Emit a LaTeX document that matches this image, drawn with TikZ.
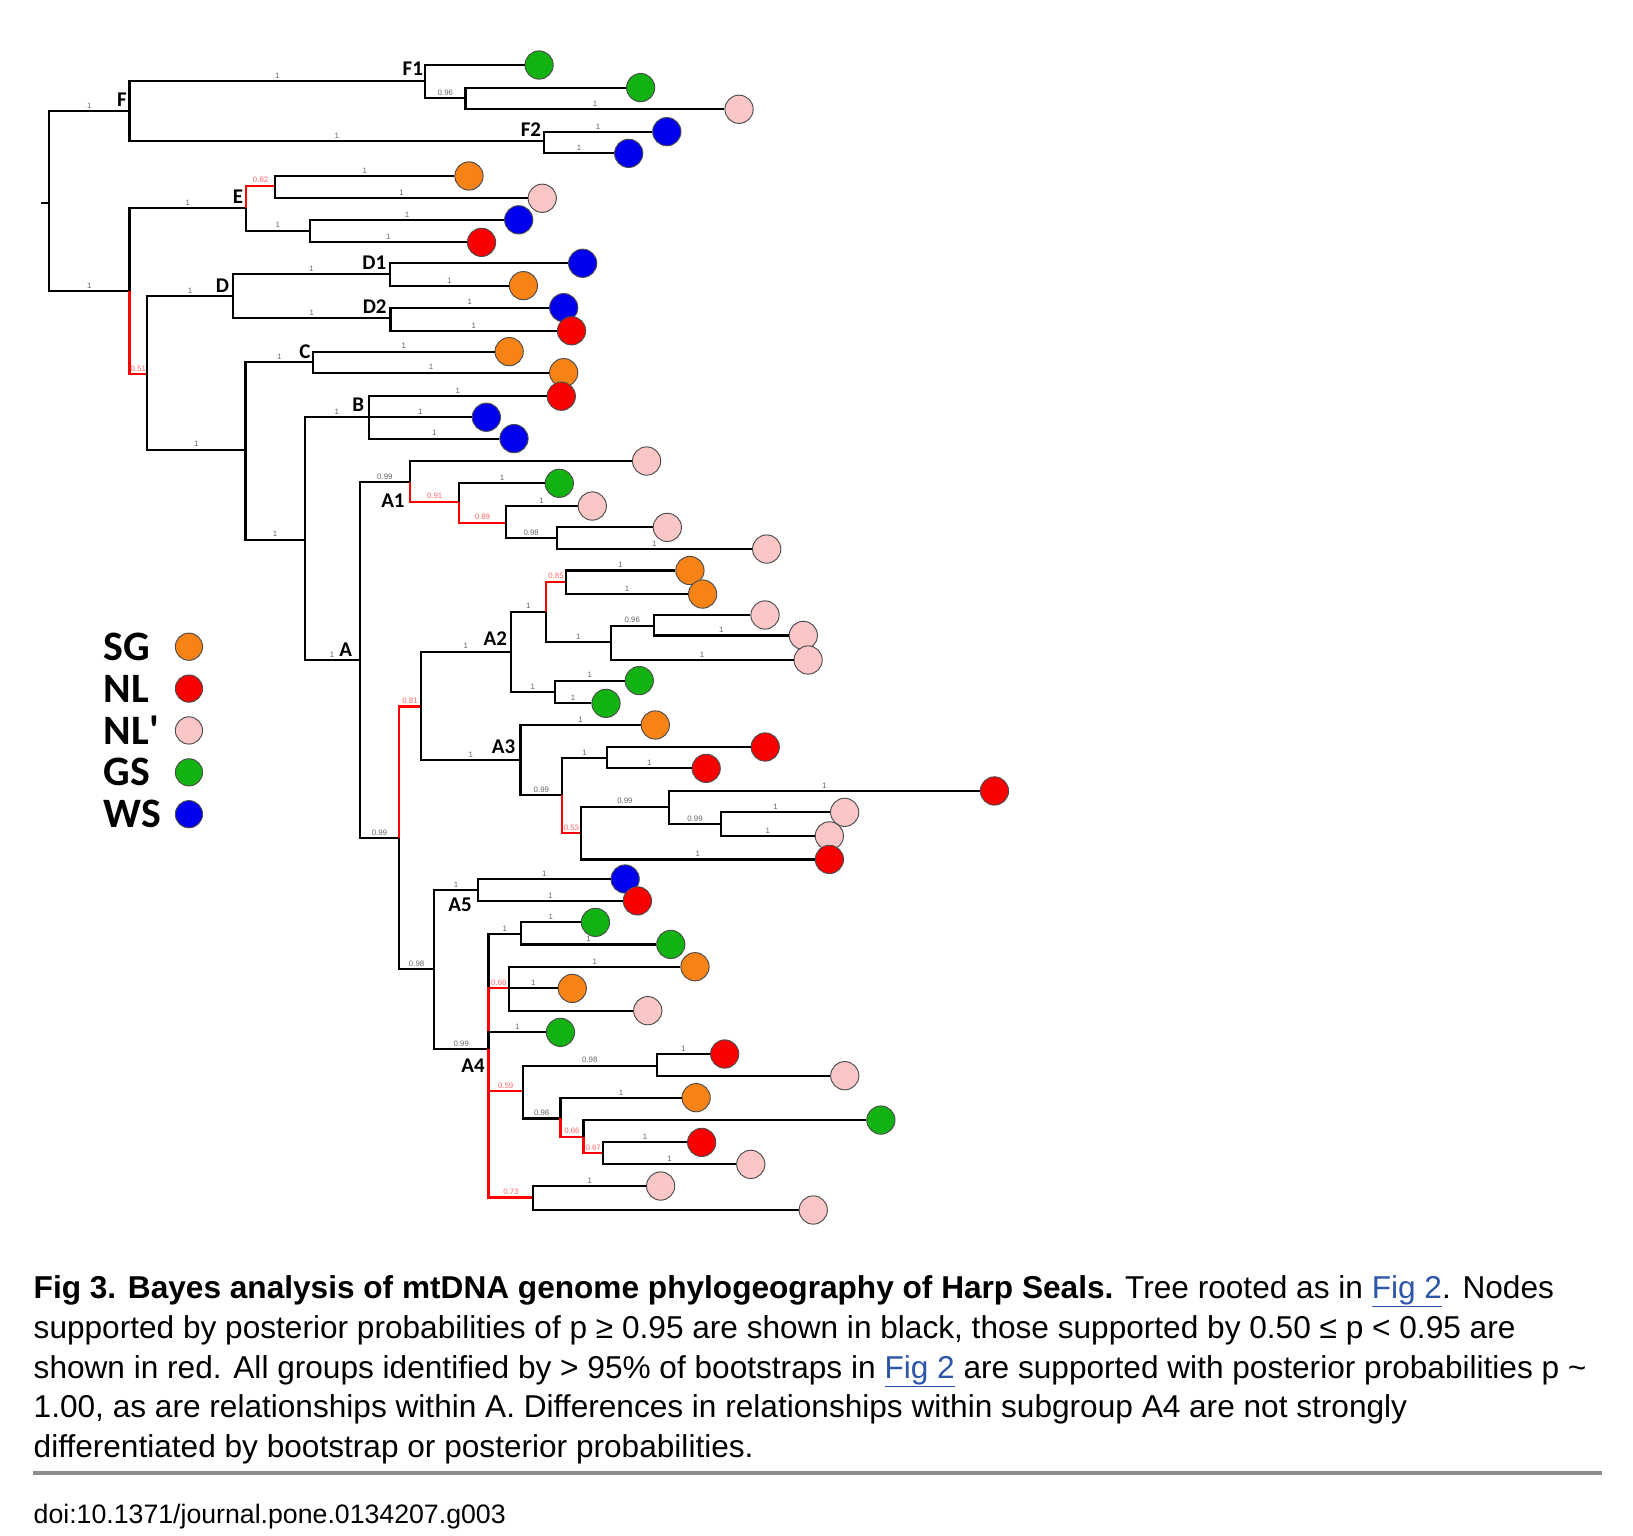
\documentclass[tikz,border=0pt]{standalone}
\usepackage{fontspec}
\setmainfont{Liberation Sans}
\newfontfamily\cladefont{Carlito}
\usetikzlibrary{positioning}
\definecolor{cSG}{RGB}{247,130,22}
\definecolor{cNL}{RGB}{250,0,0}
\definecolor{cNLp}{RGB}{251,198,198}
\definecolor{cGS}{RGB}{18,178,18}
\definecolor{cWS}{RGB}{0,0,238}
\definecolor{linkblue}{RGB}{45,85,170}
\def\lw{2.1pt}
% leaf: name, x, y, colour
\newcommand{\leaf}[4]{\node[leafdot,fill=#4] (#1) at (#2,#3) {};}
% branch to an inner node / to a leaf, with its support value
\newcommand{\br}[4][black]{\draw[branch,draw=#1] (#2) |- (#3) node[support,text=#1!60]{#4};}
\newcommand{\tw}[3]{\draw[branch] (#1) |- (#2.west) node[support]{#3};}
\newcommand{\figlink}[1]{\textcolor{linkblue}{\underline{#1}}}

\begin{document}
\begin{tikzpicture}[x=1pt,y=-1pt,
    branch/.style={line width=\lw},
    support/.style={pos=0.75,above=1.5pt,inner sep=0pt,
        font=\fontsize{7.5}{8}\selectfont,text=black!60},
    leafdot/.style={circle,draw=black!70,line width=0.9pt,
        minimum size=27pt,inner sep=0pt},
    cladename/.style={inner sep=0pt,font=\cladefont\bfseries\fontsize{20}{20}\selectfont},
    legendname/.style={inner sep=0pt,font=\cladefont\bfseries\fontsize{40}{40}\selectfont},
    caption/.style={inner sep=0pt,align=left,font=\fontsize{30.2}{38}\selectfont},
    rulestyle/.style={line width=3.5pt,black!45}]
  \useasboundingbox (0,0) rectangle (1560,1467);

  % inner nodes of the tree
  \coordinate (stub) at (39,194.2);
  \coordinate (nRoot) at (46.8,194.2);
  \coordinate (nF)   at (123.8,106);
  \coordinate (nF1)  at (406.2,77.4);
  \coordinate (nF1x) at (444.7,93.9);
  \coordinate (nF2)  at (519.5,134.7);
  \coordinate (nDE)  at (123.8,278);
  \coordinate (nE)   at (234.9,199);
  \coordinate (nE1)  at (263,177.3);
  \coordinate (nE2)  at (296,220.3);
  \coordinate (nX1)  at (140.6,357.2);
  \coordinate (nD)   at (222.6,282.7);
  \coordinate (nD1)  at (372.2,261.7);
  \coordinate (nD2)  at (373,304);
  \coordinate (nX2)  at (234.5,429.5);
  \coordinate (nC)   at (299.2,345.5);
  \coordinate (nX3)  at (291,515.5);
  \coordinate (nB)   at (352.5,398.6);
  \coordinate (nA)   at (343.6,630.5);
  \coordinate (nA1)  at (391.7,460.8);
  \coordinate (nY1)  at (438.8,479.3);
  \coordinate (nY2)  at (483,499.3);
  \coordinate (nY3)  at (531.8,514.3);
  \coordinate (nX4)  at (381.4,800.8);
  \coordinate (nX5)  at (402,675);
  \coordinate (nA2)  at (488,622.5);
  \coordinate (nW1)  at (521.6,584.3);
  \coordinate (nW2)  at (540.7,555.7);
  \coordinate (nW3)  at (583.3,613);
  \coordinate (nW4)  at (624.7,597.7);
  \coordinate (nW5)  at (530,661.4);
  \coordinate (nA3)  at (497.3,726);
  \coordinate (nZ1)  at (537,759.5);
  \coordinate (nZ2)  at (579.8,723.8);
  \coordinate (nZ3)  at (554.7,796);
  \coordinate (nZ4)  at (639.3,770.6);
  \coordinate (nZ5)  at (688.7,787.5);
  \coordinate (nX6)  at (414.6,926);
  \coordinate (nA5)  at (456.9,850.3);
  \coordinate (nA4)  at (466.7,1002.1);
  \coordinate (nV1)  at (497.7,892.3);
  \coordinate (nV2)  at (486.4,944.2);
  \coordinate (nV3)  at (499.5,1042.3);
  \coordinate (nV4)  at (627.3,1018);
  \coordinate (nV5)  at (535.4,1068.4);
  \coordinate (nV6)  at (557.4,1085.9);
  \coordinate (nV7)  at (575.9,1101.8);
  \coordinate (nV8)  at (509.5,1144);

  % leaves
  \leaf{lF1a}{515}{62.1}{cGS}     \leaf{lF1b}{612}{83.7}{cGS}     \leaf{lF1c}{706}{104.4}{cNLp}
  \leaf{lF2a}{637}{125.8}{cWS}    \leaf{lF2b}{600.6}{146.5}{cWS}
  \leaf{lE1a}{448}{168.1}{cSG}    \leaf{lE1b}{518}{189.4}{cNLp}
  \leaf{lE2a}{495.5}{210}{cWS}    \leaf{lE2b}{460}{231.5}{cNL}
  \leaf{lD1a}{556.6}{251.5}{cWS}  \leaf{lD1b}{500}{272.9}{cSG}
  \leaf{lD2a}{538.5}{293.9}{cWS}  \leaf{lD2b}{546}{316}{cNL}
  \leaf{lCa}{486.4}{335.9}{cSG}   \leaf{lCb}{538.5}{356}{cSG}
  \leaf{lBa}{536.2}{378.5}{cNL}   \leaf{lBb}{464.6}{398.6}{cWS}   \leaf{lBc}{491}{419}{cWS}
  \leaf{lA1a}{617.7}{440.4}{cNLp} \leaf{lA1b}{534.3}{461.7}{cGS}  \leaf{lA1c}{565.8}{483.4}{cNLp}
  \leaf{lA1d}{637.5}{503.8}{cNLp} \leaf{lA1e}{732.4}{524.5}{cNLp}
  \leaf{lA2a}{659.1}{545}{cSG}    \leaf{lA2b}{671.2}{567.5}{cSG}
  \leaf{lA2c}{730.8}{587.5}{cNLp} \leaf{lA2d}{767.4}{607}{cNLp}   \leaf{lA2e}{772}{630.5}{cNLp}
  \leaf{lA2f}{610.7}{650.2}{cGS}  \leaf{lA2g}{578.9}{671.9}{cGS}
  \leaf{lA3a}{626}{692.6}{cSG}    \leaf{lA3b}{731}{713.6}{cNL}    \leaf{lA3c}{674.6}{734}{cNL}
  \leaf{lA3d}{950}{755.6}{cNL}    \leaf{lA3e}{806.9}{776}{cNLp}   \leaf{lA3f}{792.3}{798.5}{cNLp}
  \leaf{lA3g}{792.3}{821}{cNL}
  \leaf{lA5a}{597.2}{839.7}{cWS}  \leaf{lA5b}{608.9}{860.6}{cNL}
  \leaf{lA4a}{568.8}{881.1}{cGS}  \leaf{lA4b}{640.8}{902.2}{cGS}
  \leaf{lA4c}{663.9}{923.5}{cSG}  \leaf{lA4d}{546.7}{944.2}{cSG}  \leaf{lA4e}{618.8}{965.5}{cNLp}
  \leaf{lA4f}{535.4}{986.2}{cGS}
  \leaf{lA4g}{692.3}{1006.9}{cNL} \leaf{lA4h}{807}{1027.6}{cNLp}
  \leaf{lA4i}{665}{1048.6}{cSG}   \leaf{lA4j}{841.5}{1070}{cGS}
  \leaf{lA4k}{670.3}{1091.3}{cNL} \leaf{lA4l}{717.2}{1112.3}{cNLp}
  \leaf{lA4m}{631.1}{1133}{cNLp}  \leaf{lA4n}{776.9}{1155.9}{cNLp}

  % branches: F, E, D, C, B
  \draw[branch] (stub) -- (nRoot);
  \br{nRoot}{nF}{1}  \br{nRoot}{nDE}{1}
  \br{nF}{nF1}{1}    \br{nF}{nF2}{1}
  \tw{nF1}{lF1a}{}   \br{nF1}{nF1x}{0.96}
  \tw{nF1x}{lF1b}{}  \tw{nF1x}{lF1c}{1}
  \tw{nF2}{lF2a}{1}  \tw{nF2}{lF2b}{1}
  \br{nDE}{nE}{1}    \br[red]{nDE}{nX1}{0.51}
  \br[red]{nE}{nE1}{0.82} \br{nE}{nE2}{1}
  \tw{nE1}{lE1a}{1}  \tw{nE1}{lE1b}{1}
  \tw{nE2}{lE2a}{1}  \tw{nE2}{lE2b}{1}
  \br{nX1}{nD}{1}    \br{nX1}{nX2}{1}
  \br{nD}{nD1}{1}    \br{nD}{nD2}{1}
  \tw{nD1}{lD1a}{}   \tw{nD1}{lD1b}{1}
  \tw{nD2}{lD2a}{1}  \tw{nD2}{lD2b}{1}
  \br{nX2}{nC}{1}    \br{nX2}{nX3}{1}
  \tw{nC}{lCa}{1}    \tw{nC}{lCb}{1}
  \br{nX3}{nB}{1}    \br{nX3}{nA}{1}
  \tw{nB}{lBa}{1}    \tw{nB}{lBb}{1}    \tw{nB}{lBc}{1}

  % branches: A1, A2, A3
  \br{nA}{nA1}{0.99} \br{nA}{nX4}{0.99}
  \tw{nA1}{lA1a}{}   \br[red]{nA1}{nY1}{0.91}
  \tw{nY1}{lA1b}{1}  \br[red]{nY1}{nY2}{0.89}
  \tw{nY2}{lA1c}{1}  \br{nY2}{nY3}{0.98}
  \tw{nY3}{lA1d}{}   \tw{nY3}{lA1e}{1}
  \br[red]{nX4}{nX5}{0.81} \br{nX4}{nX6}{0.98}
  \br{nX5}{nA2}{1}   \br{nX5}{nA3}{1}
  \br{nA2}{nW1}{1}   \br{nA2}{nW5}{1}
  \br[red]{nW1}{nW2}{0.85} \br{nW1}{nW3}{1}
  \tw{nW2}{lA2a}{1}  \tw{nW2}{lA2b}{1}
  \br{nW3}{nW4}{0.96} \tw{nW3}{lA2e}{1}
  \tw{nW4}{lA2c}{}   \tw{nW4}{lA2d}{1}
  \tw{nW5}{lA2f}{1}  \tw{nW5}{lA2g}{1}
  \tw{nA3}{lA3a}{1}  \br{nA3}{nZ1}{0.99}
  \br{nZ1}{nZ2}{1}   \br[red]{nZ1}{nZ3}{0.53}
  \tw{nZ2}{lA3b}{}   \tw{nZ2}{lA3c}{1}
  \br{nZ3}{nZ4}{0.99} \tw{nZ3}{lA3g}{1}
  \tw{nZ4}{lA3d}{1}  \br{nZ4}{nZ5}{0.99}
  \tw{nZ5}{lA3e}{1}  \tw{nZ5}{lA3f}{1}

  % branches: A5, A4
  \br{nX6}{nA5}{1}   \br{nX6}{nA4}{0.99}
  \tw{nA5}{lA5a}{1}  \tw{nA5}{lA5b}{1}
  \br{nA4}{nV1}{1}   \br[red]{nA4}{nV2}{0.66} \tw{nA4}{lA4f}{1}
  \br[red]{nA4}{nV3}{0.59} \br[red]{nA4}{nV8}{0.73}
  \tw{nV1}{lA4a}{1}  \tw{nV1}{lA4b}{1}
  \tw{nV2}{lA4c}{1}  \tw{nV2}{lA4d}{1}  \tw{nV2}{lA4e}{}
  \br{nV3}{nV4}{0.98} \br{nV3}{nV5}{0.98}
  \tw{nV4}{lA4g}{1}  \tw{nV4}{lA4h}{}
  \tw{nV5}{lA4i}{1}  \br[red]{nV5}{nV6}{0.66}
  \tw{nV6}{lA4j}{}   \br[red]{nV6}{nV7}{0.67}
  \tw{nV7}{lA4k}{1}  \tw{nV7}{lA4l}{1}
  \tw{nV8}{lA4m}{1}  \tw{nV8}{lA4n}{}

  % group names
  \node[cladename,above left=4pt and 2.5pt of nF]  (tF)  {F};
  \node[cladename,above left=5pt and 2pt of nF1]   (tF1) {F1};
  \node[cladename,above left=4pt and 2.5pt of nF2] (tF2) {F2};
  \node[cladename,above left=4.5pt and 2.5pt of nE] (tE) {E};
  \node[cladename,above left=3pt and 3.5pt of nD]  (tD)  {D};
  \node[cladename,above left=4pt and 3pt of nD1]   (tD1) {D1};
  \node[cladename,above left=4pt and 3.5pt of nD2] (tD2) {D2};
  \node[cladename,above left=3pt and 2.5pt of nC]  (tC)  {C};
  \node[cladename,above left=5pt and 4.5pt of nB]  (tB)  {B};
  \node[cladename,above left=3pt and 7pt of nA]    (tA)  {A};
  \node[cladename,below left=10.5pt and 5pt of nA1] (tA1) {A1};
  \node[cladename,above left=6pt and 3.5pt of nA2] (tA2) {A2};
  \node[cladename,above left=5.5pt and 5pt of nA3] (tA3) {A3};
  \node[cladename,below left=7pt and 6pt of nA5]   (tA5) {A5};
  \node[cladename,below left=9pt and 3.5pt of nA4] (tA4) {A4};

  % legend
  \foreach \nm/\col [count=\i] in {SG/cSG,NL/cNL,{NL\textquotesingle}/cNLp,GS/cGS,WS/cWS}{
    \node[legendname,anchor=west] (key\i) at (99,577.8+40*\i) {\nm};
    \node[leafdot,minimum size=26pt,fill=\col] (dot\i) at (180.5,577.8+40*\i) {};
  }

  % caption
  \node[caption,anchor=north west] (cap) at (32,1218.5) {%
    \textbf{Fig 3. Bayes analysis of mtDNA genome phylogeography of Harp Seals.} Tree rooted as in \figlink{Fig 2}. Nodes\\
    supported by posterior probabilities of p ≥ 0.95 are shown in black, those supported by 0.50 ≤ p < 0.95 are\\
    shown in red. All groups identified by > 95\% of bootstraps in \figlink{Fig 2} are supported with posterior probabilities p \textasciitilde\\
    1.00, as are relationships within A. Differences in relationships within subgroup A4 are not strongly\\
    differentiated by bootstrap or posterior probabilities.};
  \coordinate (ruleL) at (32,1407);
  \coordinate (ruleR) at (1530,1407);
  \draw[rulestyle] (ruleL) -- (ruleR);
  \node[anchor=base west,inner sep=0pt,font=\fontsize{25.5}{30}\selectfont] (doi) at (32,1455)
    {doi:10.1371/journal.pone.0134207.g003};
\end{tikzpicture}
\end{document}
